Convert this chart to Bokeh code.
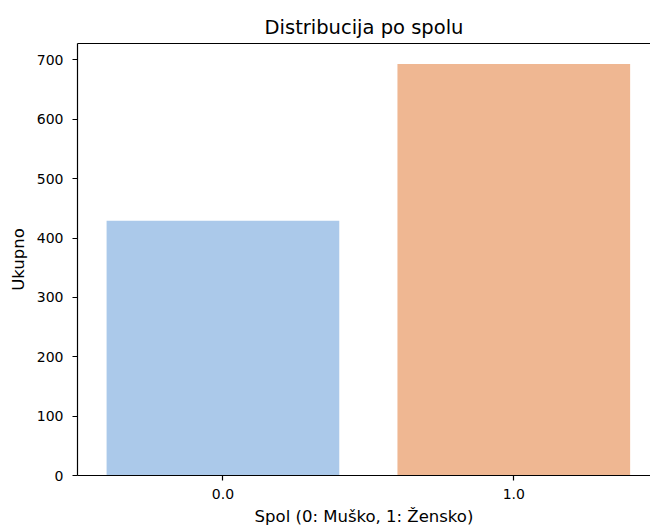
from bokeh.plotting import figure
from bokeh.models import Range1d, FixedTicker, LinearAxis
from bokeh.embed import file_html
from bokeh.resources import INLINE

categories = ["0.0", "1.0"]
positions = [0, 1]
counts = [429, 693]
colors = ["#abc9ea", "#efb792"]
y_ticks = [0, 100, 200, 300, 400, 500, 600, 700]

FONT = "DejaVu Sans"

p = figure(width=650, height=529, output_backend="svg", toolbar_location=None,
           x_range=Range1d(-0.5, 1.47), y_range=Range1d(0, max(counts) * 1.05),
           title="Distribucija po spolu",
           min_border_left=77, min_border_right=0, min_border_bottom=54, min_border_top=43)

p.vbar(x=positions, top=counts, width=0.8, fill_color=colors, line_color=None)

p.outline_line_color = None
p.xgrid.visible = False
p.ygrid.visible = False

p.title.align = "center"
p.title.text_font = FONT
p.title.text_font_size = "19.5px"
p.title.text_font_style = "normal"
p.title.text_color = "#000000"
p.title.standoff = 9

for ax in (p.xaxis[0], p.yaxis[0]):
    ax.axis_line_color = "#000000"
    ax.axis_line_width = 1.2
    ax.major_tick_line_color = "#000000"
    ax.major_tick_line_width = 1.2
    ax.major_tick_out = 5
    ax.major_tick_in = 0
    ax.minor_tick_line_color = None
    ax.major_label_text_font = FONT
    ax.major_label_text_font_size = "14px"
    ax.major_label_text_color = "#000000"
    ax.axis_label_text_font = FONT
    ax.axis_label_text_font_size = "16.5px"
    ax.axis_label_text_font_style = "normal"
    ax.axis_label_text_color = "#000000"

p.xaxis[0].ticker = FixedTicker(ticks=positions)
p.xaxis[0].major_label_overrides = {pos: lab for pos, lab in zip(positions, categories)}
p.xaxis[0].axis_label = "Spol (0: Muško, 1: Žensko)"
p.xaxis[0].major_label_standoff = 8
p.xaxis[0].axis_label_standoff = 5

p.yaxis[0].ticker = FixedTicker(ticks=y_ticks)
p.yaxis[0].axis_label = "Ukupno"
p.yaxis[0].major_label_standoff = 9
p.yaxis[0].axis_label_standoff = 6

top = LinearAxis(ticker=FixedTicker(ticks=[]), axis_line_color="#000000", axis_line_width=1.2,
                 major_tick_out=0, major_tick_in=0, minor_tick_line_color=None,
                 major_label_text_font_size="0px")
p.add_layout(top, "above")

open("out.html", "w").write(file_html(p, INLINE))
